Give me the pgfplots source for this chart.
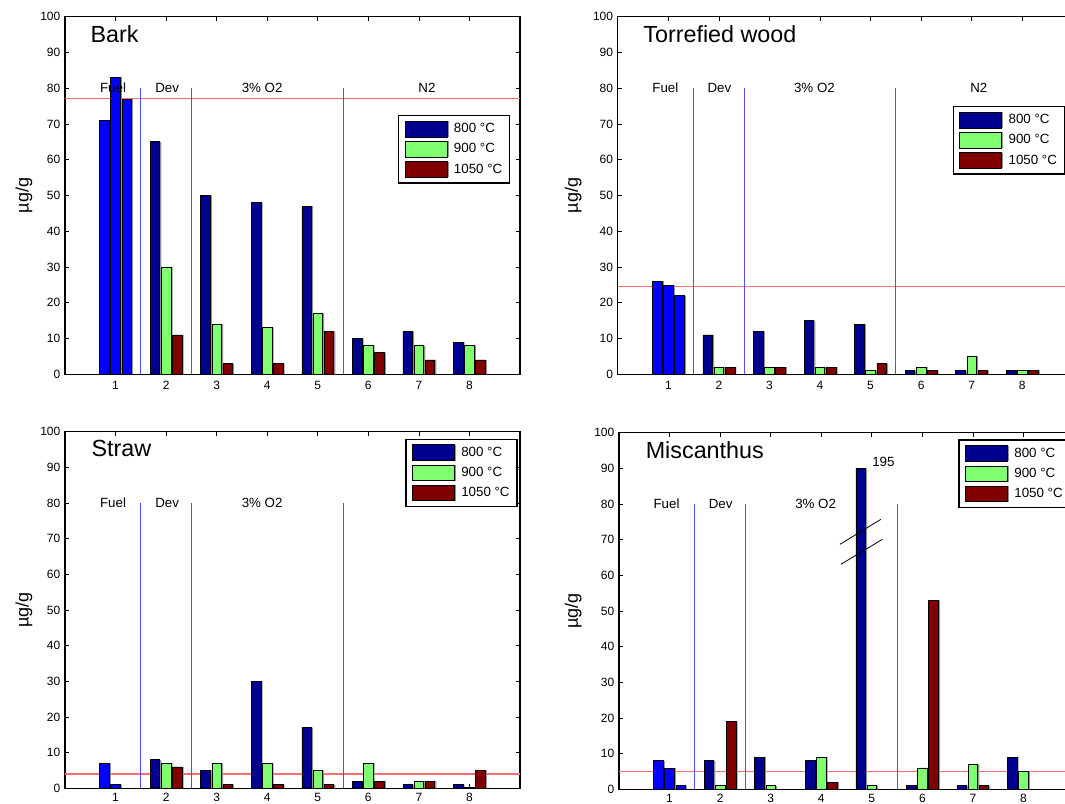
\documentclass[border=0pt]{standalone}
\usepackage{pgfplots}
\pgfplotsset{compat=1.18}
\usepackage{fontspec}
\setmainfont{Liberation Sans}
\definecolor{fuelblue}{RGB}{0,0,255}
\definecolor{navyb}{RGB}{0,0,143}
\definecolor{lgreen}{RGB}{128,255,112}
\definecolor{dred}{RGB}{128,0,0}
\definecolor{sepblue}{RGB}{80,80,255}
\definecolor{refred}{RGB}{255,110,110}
\tikzset{
  reg/.style={font=\fontsize{10}{12}\selectfont, anchor=center},
  ttl/.style={font=\fontsize{17.5}{20}\selectfont, anchor=base west, inner sep=0pt},
}
\pgfplotsset{
  panel/.style={
    scale only axis, width=341.25pt, height=268.2pt, anchor=south west,
    xmin=0, xmax=9, ymin=0, ymax=100,
    xtick={1,...,8}, ytick={0,10,...,100},
    xtick pos=both, ytick pos=both,
    tick align=inside, major tick length=3pt,
    tick style={black, line width=0.5pt},
    axis line style={black, line width=0.8pt},
    ticklabel style={font=\fontsize{9}{10}\selectfont},
    /pgf/number format/assume math mode=true,
    ylabel={µg/g},
    ylabel style={font=\fontsize{13.5}{15}\selectfont, at={(axis description cs:0,0.5)}, anchor=center, yshift=30.75pt},
    legend image code/.code={\draw[#1] (0pt,-5.9pt) rectangle (31.5pt,5.9pt);},
    legend style={draw=black, line width=0.9pt, fill=white, font=\fontsize{10}{12}\selectfont,
      anchor=north west, inner xsep=4.5pt, inner ysep=4pt, row sep=2.8pt,
      nodes={inner xsep=1pt, inner ysep=1pt},
      /tikz/every odd column/.append style={column sep=4pt},
      cells={anchor=west}},
  },
  bars/.style={ybar, bar width=0.19, draw=black, line width=0.5pt,
    preaction={fill=gray!85, draw=none, transform canvas={xshift=1.2pt}}},
  sep/.style={sepblue, line width=0.8pt, forget plot},
  refl/.style={refred, line width=0.8pt, forget plot},
}
\begin{document}
\begin{tikzpicture}
% ---------------- Bark ----------------
\begin{axis}[panel, at={(48.75pt,322.3pt)}, xticklabel style={yshift=-1.5pt}, legend style={at={(0.732,0.725)}}]
\addplot[refl] coordinates {(0,77) (9,77)};
\addplot[bars, fill=fuelblue, bar shift=-0.22, forget plot] coordinates {(1,71)};
\addplot[bars, fill=fuelblue, bar shift=0, forget plot] coordinates {(1,83)};
\addplot[bars, fill=fuelblue, bar shift=0.22, forget plot] coordinates {(1,77)};
\addplot[bars, fill=navyb, bar shift=-0.22] coordinates {(2,65) (3,50) (4,48) (5,47) (6,10) (7,12) (8,9)};
\addplot[bars, fill=lgreen, bar shift=0] coordinates {(2,30) (3,14) (4,13) (5,17) (6,8) (7,8) (8,8)};
\addplot[bars, fill=dred, bar shift=0.22] coordinates {(2,11) (3,3) (4,3) (5,12) (6,6) (7,4) (8,4)};
\legend{800 °C, 900 °C, 1050 °C}
\addplot[sep] coordinates {(1.5,0) (1.5,80)};
\addplot[sep] coordinates {(2.5,0) (2.5,80)};
\addplot[sep] coordinates {(5.5,0) (5.5,80)};
\node[reg] at (axis cs:0.95,80) {Fuel};
\node[reg] at (axis cs:2.02,80) {Dev};
\node[reg] at (axis cs:3.9,80) {3\% O2};
\node[reg] at (axis cs:7.16,80) {N2};
\node[ttl] at (axis cs:0.5,92.7) {Bark};
\end{axis}
% ---------------- Torrefied wood ----------------
\begin{axis}[panel, at={(463.35pt,322.3pt)}, xticklabel style={yshift=-1.5pt}, ylabel style={yshift=2.75pt}, legend style={at={(0.736,0.750)}}]
\addplot[refl] coordinates {(0,24.5) (9,24.5)};
\addplot[bars, fill=fuelblue, bar shift=-0.22, forget plot] coordinates {(1,26)};
\addplot[bars, fill=fuelblue, bar shift=0, forget plot] coordinates {(1,25)};
\addplot[bars, fill=fuelblue, bar shift=0.22, forget plot] coordinates {(1,22)};
\addplot[bars, fill=navyb, bar shift=-0.22] coordinates {(2,11) (3,12) (4,15) (5,14) (6,1) (7,1) (8,1)};
\addplot[bars, fill=lgreen, bar shift=0] coordinates {(2,2) (3,2) (4,2) (5,1) (6,2) (7,5) (8,1)};
\addplot[bars, fill=dred, bar shift=0.22] coordinates {(2,2) (3,2) (4,2) (5,3) (6,1) (7,1) (8,1)};
\legend{800 °C, 900 °C, 1050 °C}
\addplot[sep] coordinates {(1.5,0) (1.5,80)};
\addplot[sep] coordinates {(2.5,0) (2.5,80)};
\addplot[sep] coordinates {(5.5,0) (5.5,80)};
\node[reg] at (axis cs:0.94,80) {Fuel};
\node[reg] at (axis cs:2.01,80) {Dev};
\node[reg] at (axis cs:3.89,80) {3\% O2};
\node[reg] at (axis cs:7.14,80) {N2};
\node[ttl] at (axis cs:0.5,92.7) {Torrefied wood};
\end{axis}
% ---------------- Straw ----------------
\begin{axis}[panel, height=267.4pt, at={(48.75pt,11.78pt)}, legend style={at={(0.748,0.981)}}]
\addplot[refl] coordinates {(0,4) (9,4)};
\addplot[bars, fill=fuelblue, bar shift=-0.22, forget plot] coordinates {(1,7)};
\addplot[bars, fill=fuelblue, bar shift=0, forget plot] coordinates {(1,1)};
\addplot[bars, fill=fuelblue, bar shift=0.22, forget plot] coordinates {(1,0)};
\addplot[bars, fill=navyb, bar shift=-0.22] coordinates {(2,8) (3,5) (4,30) (5,17) (6,2) (7,1) (8,1)};
\addplot[bars, fill=lgreen, bar shift=0] coordinates {(2,7) (3,7) (4,7) (5,5) (6,7) (7,2) (8,0.3)};
\addplot[bars, fill=dred, bar shift=0.22] coordinates {(2,6) (3,1) (4,1) (5,1) (6,2) (7,2) (8,5)};
\legend{800 °C, 900 °C, 1050 °C}
\addplot[sep] coordinates {(1.5,0) (1.5,80)};
\addplot[sep] coordinates {(2.5,0) (2.5,80)};
\addplot[sep] coordinates {(5.5,0) (5.5,80)};
\node[reg] at (axis cs:0.95,80) {Fuel};
\node[reg] at (axis cs:2.02,80) {Dev};
\node[reg] at (axis cs:3.9,80) {3\% O2};
\node[reg] at (axis cs:7.16,80) {N2};
\node[ttl] at (axis cs:0.52,93) {Straw};
\end{axis}
% ---------------- Miscanthus ----------------
\begin{axis}[panel, height=267.5pt, at={(464.25pt,11.0pt)}, ylabel style={yshift=3.5pt}, legend style={at={(0.746,0.981)}}]
\addplot[refl] coordinates {(0,5) (9,5)};
\addplot[bars, fill=fuelblue, bar shift=-0.22, forget plot] coordinates {(1,8)};
\addplot[bars, fill=fuelblue, bar shift=0, forget plot] coordinates {(1,6)};
\addplot[bars, fill=fuelblue, bar shift=0.22, forget plot] coordinates {(1,1)};
\addplot[bars, fill=navyb, bar shift=-0.22] coordinates {(2,8) (3,9) (4,8) (5,90) (6,1) (7,1) (8,9)};
\addplot[bars, fill=lgreen, bar shift=0] coordinates {(2,1) (3,1) (4,9) (5,1) (6,6) (7,7) (8,5)};
\addplot[bars, fill=dred, bar shift=0.22] coordinates {(2,19) (3,0) (4,2) (5,0) (6,53) (7,1) (8,0)};
\legend{800 °C, 900 °C, 1050 °C}
\addplot[sep] coordinates {(1.5,0) (1.5,80)};
\addplot[sep] coordinates {(2.5,0) (2.5,80)};
\addplot[sep] coordinates {(5.5,0) (5.5,80)};
\node[reg] at (axis cs:0.94,80) {Fuel};
\node[reg] at (axis cs:2.01,80) {Dev};
\node[reg] at (axis cs:3.89,80) {3\% O2};
\node[reg] at (axis cs:7.14,80) {N2};
\node[ttl] at (axis cs:0.525,92.8) {Miscanthus};
\draw[black, line width=0.6pt] (axis cs:4.37,68.7) -- (axis cs:5.18,75.7);
\draw[black, line width=0.6pt] (axis cs:4.39,63.1) -- (axis cs:5.21,70.1);
\node[reg] at (axis cs:5.23,91.8) {195};
\end{axis}
\pgfresetboundingbox
\useasboundingbox (0,0) rectangle (798.75pt,603pt);
\end{tikzpicture}
\end{document}
